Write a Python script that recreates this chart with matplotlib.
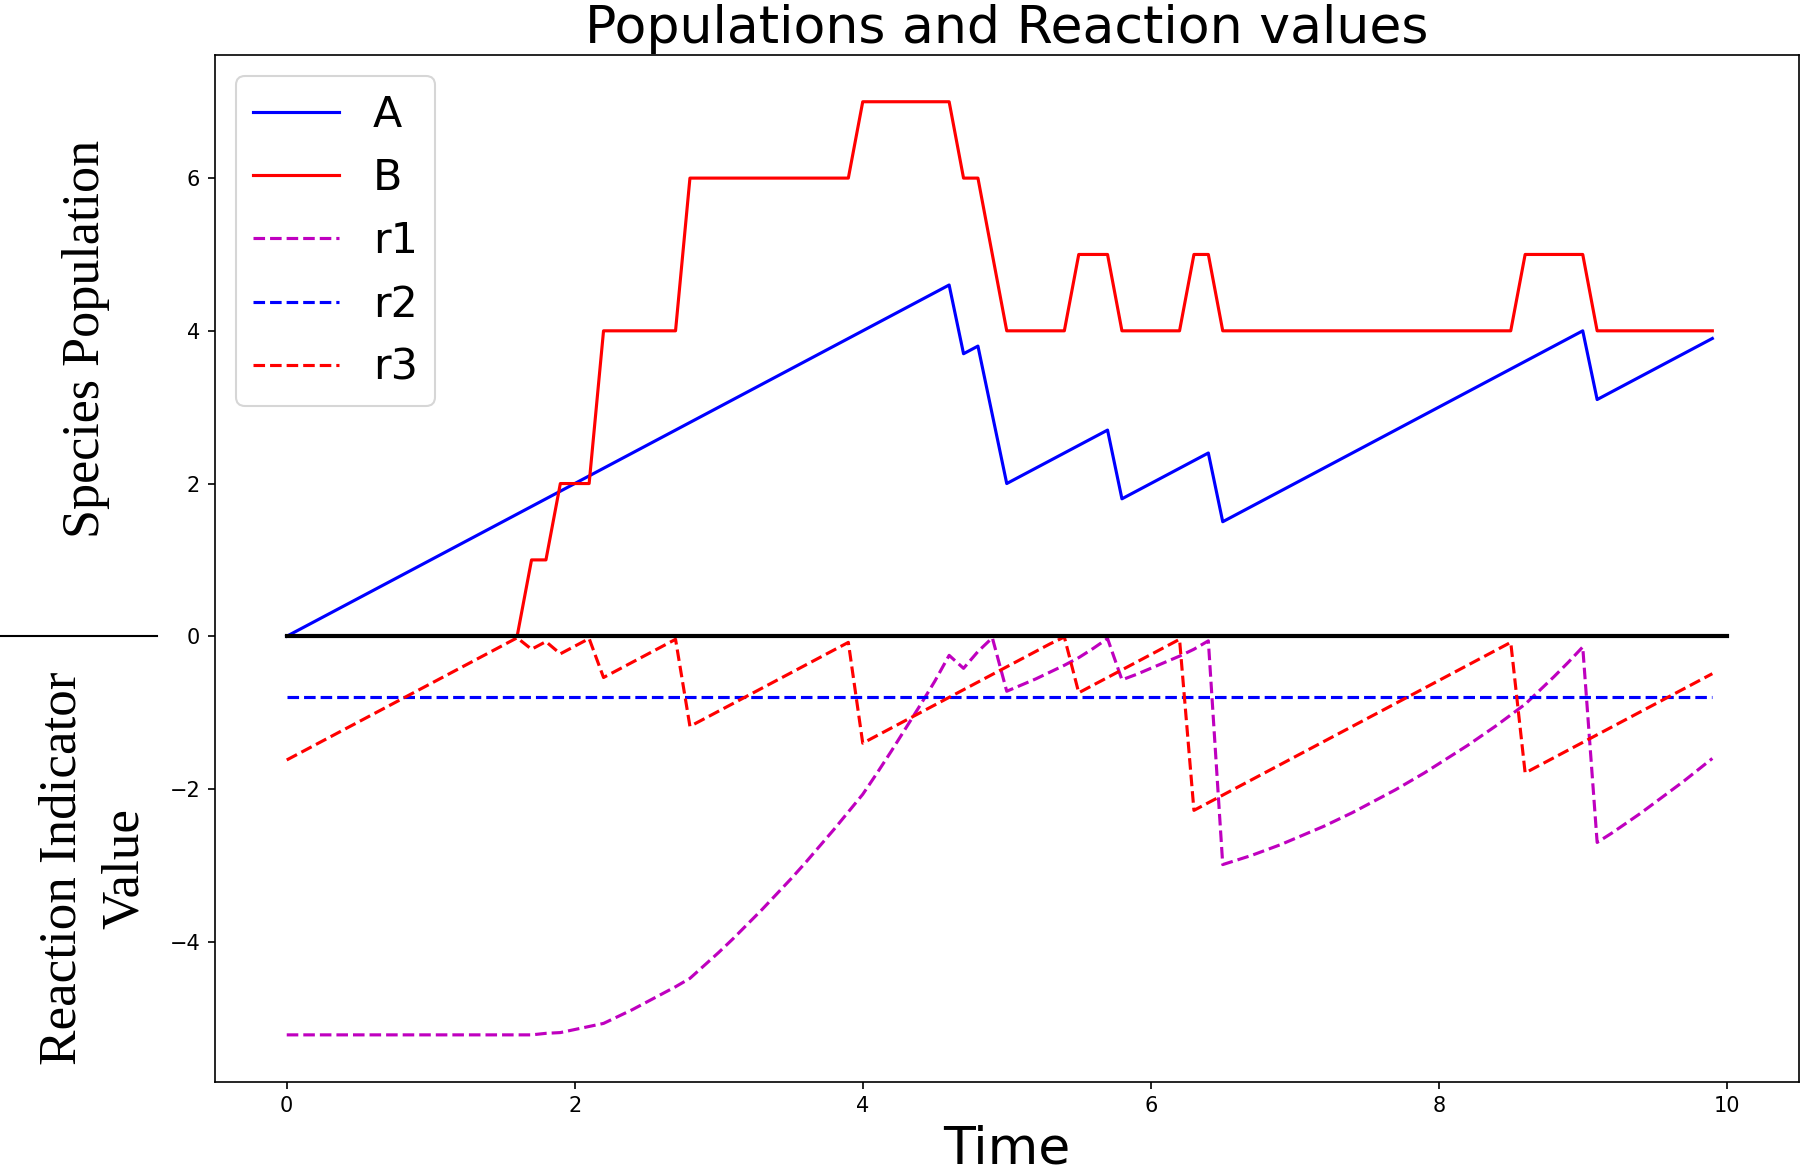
"""Plot species populations and reaction indicator values over time."""
import matplotlib

matplotlib.use("Agg")
import matplotlib.pyplot as plt
import matplotlib.transforms as mtransforms
from matplotlib.lines import Line2D

TIME = [
    0.0, 0.1, 0.2, 0.3, 0.4, 0.5, 0.6, 0.7, 0.8, 0.9,
    1.0, 1.1, 1.2, 1.3, 1.4, 1.5, 1.6, 1.7, 1.8, 1.9,
    2.0, 2.1, 2.2, 2.3, 2.4, 2.5, 2.6, 2.7, 2.8, 2.9,
    3.0, 3.1, 3.2, 3.3, 3.4, 3.5, 3.6, 3.7, 3.8, 3.9,
    4.0, 4.1, 4.2, 4.3, 4.4, 4.5, 4.6, 4.7, 4.8, 4.9,
    5.0, 5.1, 5.2, 5.3, 5.4, 5.5, 5.6, 5.7, 5.8, 5.9,
    6.0, 6.1, 6.2, 6.3, 6.4, 6.5, 6.6, 6.7, 6.8, 6.9,
    7.0, 7.1, 7.2, 7.3, 7.4, 7.5, 7.6, 7.7, 7.8, 7.9,
    8.0, 8.1, 8.2, 8.3, 8.4, 8.5, 8.6, 8.7, 8.8, 8.9,
    9.0, 9.1, 9.2, 9.3, 9.4, 9.5, 9.6, 9.7, 9.8, 9.9,
]

# species populations
POP_A = [
    0.0, 0.1, 0.2, 0.3, 0.4, 0.5, 0.6, 0.7, 0.8, 0.9,
    1.0, 1.1, 1.2, 1.3, 1.4, 1.5, 1.6, 1.7, 1.8, 1.9,
    2.0, 2.1, 2.2, 2.3, 2.4, 2.5, 2.6, 2.7, 2.8, 2.9,
    3.0, 3.1, 3.2, 3.3, 3.4, 3.5, 3.6, 3.7, 3.8, 3.9,
    4.0, 4.1, 4.2, 4.3, 4.4, 4.5, 4.6, 3.7, 3.8, 2.9,
    2.0, 2.1, 2.2, 2.3, 2.4, 2.5, 2.6, 2.7, 1.8, 1.9,
    2.0, 2.1, 2.2, 2.3, 2.4, 1.5, 1.6, 1.7, 1.8, 1.9,
    2.0, 2.1, 2.2, 2.3, 2.4, 2.5, 2.6, 2.7, 2.8, 2.9,
    3.0, 3.1, 3.2, 3.3, 3.4, 3.5, 3.6, 3.7, 3.8, 3.9,
    4.0, 3.1, 3.2, 3.3, 3.4, 3.5, 3.6, 3.7, 3.8, 3.9,
]
POP_B = [
    0, 0, 0, 0, 0, 0, 0, 0, 0, 0,
    0, 0, 0, 0, 0, 0, 0, 1, 1, 2,
    2, 2, 4, 4, 4, 4, 4, 4, 6, 6,
    6, 6, 6, 6, 6, 6, 6, 6, 6, 6,
    7, 7, 7, 7, 7, 7, 7, 6, 6, 5,
    4, 4, 4, 4, 4, 5, 5, 5, 4, 4,
    4, 4, 4, 5, 5, 4, 4, 4, 4, 4,
    4, 4, 4, 4, 4, 4, 4, 4, 4, 4,
    4, 4, 4, 4, 4, 4, 5, 5, 5, 5,
    5, 4, 4, 4, 4, 4, 4, 4, 4, 4,
]

# reaction indicator values
R1 = [
    -5.22, -5.22, -5.22, -5.22, -5.22, -5.22, -5.22, -5.22, -5.22, -5.22,
    -5.22, -5.22, -5.22, -5.22, -5.22, -5.22, -5.22, -5.22, -5.20, -5.19,
    -5.15, -5.11, -5.07, -4.98, -4.89, -4.79, -4.69, -4.59, -4.48, -4.31,
    -4.14, -3.96, -3.77, -3.58, -3.38, -3.18, -2.97, -2.75, -2.53, -2.30,
    -2.07, -1.79, -1.50, -1.20, -0.90, -0.59, -0.25, -0.42, -0.20, -0.02,
    -0.72, -0.64, -0.56, -0.47, -0.38, -0.28, -0.16, -0.03, -0.57, -0.50,
    -0.42, -0.34, -0.26, -0.17, -0.06, -2.99, -2.93, -2.87, -2.80, -2.73,
    -2.65, -2.57, -2.49, -2.40, -2.31, -2.21, -2.11, -2.01, -1.90, -1.79,
    -1.67, -1.55, -1.43, -1.30, -1.17, -1.03, -0.89, -0.71, -0.53, -0.34,
    -0.14, -2.70, -2.58, -2.45, -2.32, -2.18, -2.04, -1.90, -1.75, -1.60,
]
R2 = [-0.8] * 100
R3 = [
    -1.62, -1.52, -1.42, -1.32, -1.22, -1.12, -1.02, -0.92, -0.82, -0.72,
    -0.62, -0.52, -0.42, -0.32, -0.22, -0.12, -0.02, -0.17, -0.07, -0.23,
    -0.13, -0.03, -0.54, -0.44, -0.34, -0.24, -0.14, -0.04, -1.18, -1.08,
    -0.98, -0.88, -0.78, -0.68, -0.58, -0.48, -0.38, -0.28, -0.18, -0.08,
    -1.40, -1.30, -1.20, -1.10, -1.00, -0.90, -0.80, -0.70, -0.60, -0.50,
    -0.40, -0.30, -0.20, -0.10, -0.01, -0.74, -0.64, -0.54, -0.44, -0.34,
    -0.24, -0.14, -0.04, -2.28, -2.18, -2.08, -1.98, -1.88, -1.78, -1.68,
    -1.58, -1.48, -1.38, -1.28, -1.18, -1.08, -0.98, -0.88, -0.78, -0.68,
    -0.58, -0.48, -0.38, -0.28, -0.18, -0.08, -1.79, -1.69, -1.59, -1.49,
    -1.39, -1.29, -1.19, -1.09, -0.99, -0.89, -0.79, -0.69, -0.59, -0.49,
]

SERIES = [
    ("A", POP_A, "b-"),
    ("B", POP_B, "r-"),
    ("r1", R1, "m--"),
    ("r2", R2, "b--"),
    ("r3", R3, "r--"),
]
ZERO_LINE_X = [0, 10]
SERIF = ["Liberation Serif", "DejaVu Serif"]


def main() -> None:
    fig = plt.figure(figsize=(12, 1172 / 150), dpi=150)
    ax = fig.add_axes([0.1193, 0.0772, 0.8800, 0.8758])

    for label, values, style in SERIES:
        ax.plot(TIME, values, style, label=label, linewidth=1.5)
    ax.plot(ZERO_LINE_X, [0, 0], "k-", linewidth=2.0)

    ax.set_title("Populations and Reaction values", fontsize=25)
    ax.set_xlabel("Time", fontsize=25)
    ax.legend(loc="upper left", fontsize=20.5)

    # split y label: populations above zero, indicators below
    fig.text(0.048, 0.711, "Species Population", rotation=90,
             ha="center", va="center", family=SERIF, fontsize=25)
    fig.text(0.052, 0.259, "Reaction Indicator\nValue", rotation=90,
             ha="center", va="center", family=SERIF, fontsize=25.5,
             linespacing=1.4, multialignment="center")
    trans = mtransforms.blended_transform_factory(fig.transFigure, ax.transData)
    fig.add_artist(Line2D([0, 0.087], [0, 0], transform=trans,
                          color="black", linewidth=1.0))

    fig.savefig("out.png", dpi=150)


if __name__ == "__main__":
    main()
